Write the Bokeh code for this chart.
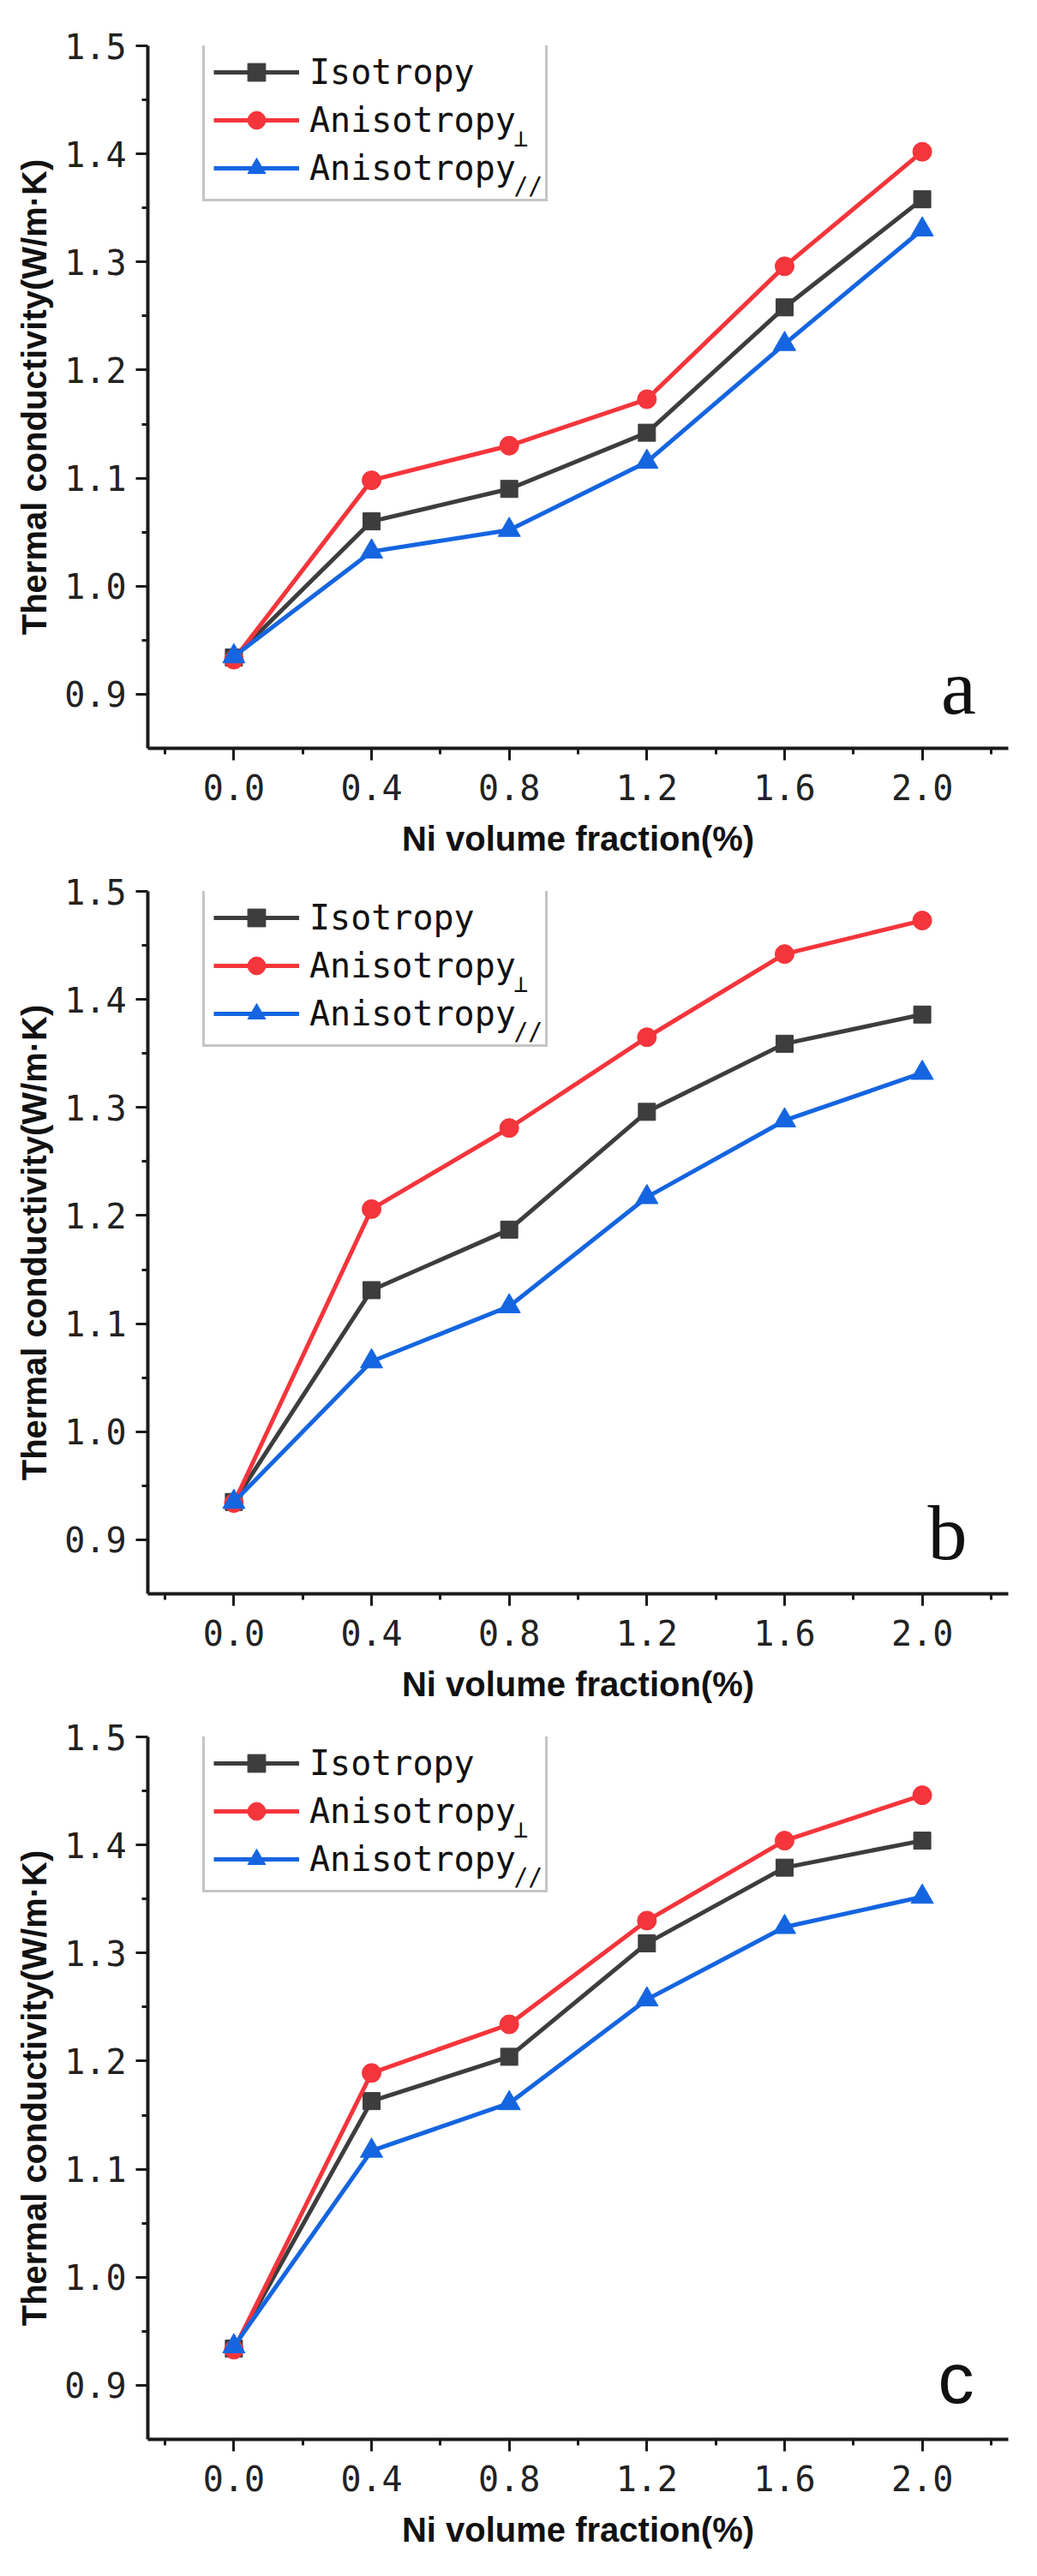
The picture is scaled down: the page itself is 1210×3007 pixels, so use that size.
from bokeh.plotting import figure
from bokeh.models import FixedTicker, NumeralTickFormatter, Legend, LegendItem, Label, Range1d
from bokeh.layouts import column
from bokeh.embed import file_html
from bokeh.resources import INLINE

# ---- data ----
x_vals = [0.0, 0.4, 0.8, 1.2, 1.6, 2.0]
x_ticks = [0.0, 0.4, 0.8, 1.2, 1.6, 2.0]
x_minor = [-0.2, 0.2, 0.6, 1.0, 1.4, 1.8, 2.2]
y_ticks = [0.9, 1.0, 1.1, 1.2, 1.3, 1.4, 1.5]
y_minor = [0.95, 1.05, 1.15, 1.25, 1.35, 1.45]

iso_a = [0.934, 1.060, 1.090, 1.142, 1.258, 1.358]
perp_a = [0.932, 1.098, 1.130, 1.173, 1.296, 1.402]
par_a = [0.935, 1.032, 1.052, 1.115, 1.224, 1.330]

iso_b = [0.935, 1.131, 1.187, 1.296, 1.359, 1.386]
perp_b = [0.934, 1.206, 1.281, 1.365, 1.442, 1.473]
par_b = [0.935, 1.065, 1.116, 1.217, 1.288, 1.332]

iso_c = [0.934, 1.163, 1.204, 1.309, 1.379, 1.404]
perp_c = [0.933, 1.189, 1.234, 1.330, 1.404, 1.446]
par_c = [0.936, 1.117, 1.161, 1.257, 1.324, 1.352]

series_labels = ["Isotropy", "Anisotropy ", "Anisotropy "]
subscripts = ["", "\u22a5", "//"]
panel_letters = ["a", "b", "c"]
x_label = "Ni volume fraction(%)"
y_label = "Thermal conductivity(W/m\u00b7K)"

colors = ["#3d3d3d", "#f4353b", "#1565e0"]
markers = ["square", "circle", "triangle"]
msizes = [20, 22, 26]

MONO = "DejaVu Sans Mono"
FRAME_H = 820


def make_panel(series, letter, top, left, frame_w, height, letter_font, letter_size, letter_x):
    width = 1194
    right = width - left - frame_w
    p = figure(width=width, height=height, output_backend="svg", toolbar_location=None,
               x_range=Range1d(-0.25, 2.25), y_range=Range1d(0.85, 1.5),
               min_border_top=top, min_border_left=left, min_border_right=right,
               min_border_bottom=height - top - FRAME_H)
    p.grid.visible = False
    p.outline_line_color = None
    p.background_fill_color = "white"
    p.border_fill_color = "white"

    items = []
    for vals, c, m, s, lab in zip(series, colors, markers, msizes, series_labels):
        lr = p.line(x_vals, vals, line_color=c, line_width=5)
        sr = p.scatter(x_vals, vals, marker=m, size=s, fill_color=c, line_color=c)
        items.append(LegendItem(label=lab, renderers=[lr, sr]))

    legend = Legend(items=items, location=(64, FRAME_H + 2 - 184), padding=10, spacing=4,
                    glyph_width=100, glyph_height=52, label_height=52, label_standoff=12,
                    label_text_font=MONO, label_text_font_size="40px", label_text_color="#111111",
                    border_line_color="#8c8c8c", border_line_width=3,
                    background_fill_alpha=0.0, margin=0)
    p.add_layout(legend)

    # subscripts of the legend labels
    text_end = 64 + 10 + 100 + 12 + 241
    item_c = [FRAME_H + 2 - 10 - 26 - i * 56 for i in range(3)]
    for i, sub in enumerate(subscripts):
        if sub:
            lab = Label(x=text_end, y=item_c[i] - 18, x_units="screen", y_units="screen",
                        text=sub, text_font=MONO, text_font_size="28px",
                        text_color="#111111", text_align="left", text_baseline="middle",
                        level="overlay")
            p.add_layout(lab)

    p.add_layout(Label(x=letter_x, y=72, x_units="screen", y_units="screen", text=letter,
                       text_font=letter_font, text_font_size=letter_size, text_color="#111111",
                       text_align="center", text_baseline="alphabetic", level="overlay"))

    for ax in (p.xaxis[0], p.yaxis[0]):
        ax.axis_line_width = 4
        ax.axis_line_color = "#1a1a1a"
        ax.major_tick_line_width = 3
        ax.minor_tick_line_width = 3
        ax.major_tick_line_color = "#1a1a1a"
        ax.minor_tick_line_color = "#1a1a1a"
        ax.major_tick_in = 0
        ax.major_tick_out = 14
        ax.minor_tick_in = 0
        ax.minor_tick_out = 7
        ax.major_label_text_font = MONO
        ax.major_label_text_font_size = "40px"
        ax.major_label_text_color = "#222222"
        ax.axis_label_text_font = "Liberation Sans"
        ax.axis_label_text_font_style = "bold"
        ax.axis_label_text_font_size = "40px"
        ax.axis_label_text_color = "#111111"
        ax.formatter = NumeralTickFormatter(format="0.0")

    p.xaxis.ticker = FixedTicker(ticks=x_ticks, minor_ticks=x_minor)
    p.yaxis.ticker = FixedTicker(ticks=y_ticks, minor_ticks=y_minor)
    p.xaxis.axis_label = x_label
    p.yaxis.axis_label = y_label
    p.xaxis.major_label_standoff = 16
    p.xaxis.axis_label_standoff = 20
    p.yaxis.major_label_standoff = 11
    p.yaxis.axis_label_standoff = 10
    return p


pa = make_panel([iso_a, perp_a, par_a], panel_letters[0], 53, 163, 1021, 1020,
                "Liberation Serif", "92px", 946)
pb = make_panel([iso_b, perp_b, par_b], panel_letters[1], 20, 172, 1004, 987,
                "Liberation Serif", "92px", 933)
pc = make_panel([iso_c, perp_c, par_c], panel_letters[2], 20, 163, 1021, 987,
                "Liberation Sans", "84px", 943)

layout = column(pa, pb, pc, spacing=0)
open("out.html", "w").write(file_html(layout, INLINE))
